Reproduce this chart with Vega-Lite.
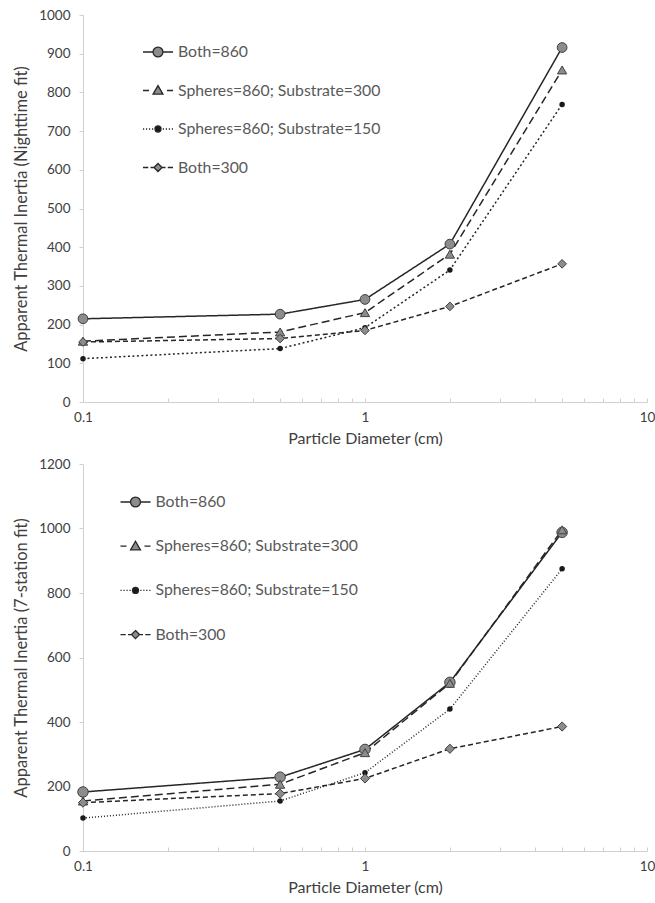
{
  "$schema": "https://vega.github.io/schema/vega-lite/v6.json",
  "background": "white",
  "padding": {"left": 13, "top": 8, "right": 10, "bottom": 5},
  "config": {
    "font": "Lato",
    "view": {"stroke": null},
    "axis": {"grid": false, "domainColor": "#d0d0d0", "tickColor": "#d0d0d0", "labelColor": "#404040", "titleColor": "#404040", "labelFontSize": 13.5, "titleFontSize": 16.5, "titleFontWeight": "normal", "labelFont": "Lato", "titleFont": "Lato"},
    "legend": {"labelFont": "Lato"}
  },
  "datasets": {
    "pts": [
      {"panel": "night", "series": "Both=860", "d": 0.1, "ti": 215},
      {"panel": "night", "series": "Both=860", "d": 0.5, "ti": 227},
      {"panel": "night", "series": "Both=860", "d": 1, "ti": 265},
      {"panel": "night", "series": "Both=860", "d": 2, "ti": 408},
      {"panel": "night", "series": "Both=860", "d": 5, "ti": 916},
      {"panel": "night", "series": "Spheres=860; Substrate=300", "d": 0.1, "ti": 157},
      {"panel": "night", "series": "Spheres=860; Substrate=300", "d": 0.5, "ti": 181},
      {"panel": "night", "series": "Spheres=860; Substrate=300", "d": 1, "ti": 231},
      {"panel": "night", "series": "Spheres=860; Substrate=300", "d": 2, "ti": 382},
      {"panel": "night", "series": "Spheres=860; Substrate=300", "d": 5, "ti": 858},
      {"panel": "night", "series": "Spheres=860; Substrate=150", "d": 0.1, "ti": 112},
      {"panel": "night", "series": "Spheres=860; Substrate=150", "d": 0.5, "ti": 138},
      {"panel": "night", "series": "Spheres=860; Substrate=150", "d": 1, "ti": 192},
      {"panel": "night", "series": "Spheres=860; Substrate=150", "d": 2, "ti": 341},
      {"panel": "night", "series": "Spheres=860; Substrate=150", "d": 5, "ti": 769},
      {"panel": "night", "series": "Both=300", "d": 0.1, "ti": 155},
      {"panel": "night", "series": "Both=300", "d": 0.5, "ti": 164},
      {"panel": "night", "series": "Both=300", "d": 1, "ti": 185},
      {"panel": "night", "series": "Both=300", "d": 2, "ti": 247},
      {"panel": "night", "series": "Both=300", "d": 5, "ti": 357},
      {"panel": "seven", "series": "Both=860", "d": 0.1, "ti": 183},
      {"panel": "seven", "series": "Both=860", "d": 0.5, "ti": 229},
      {"panel": "seven", "series": "Both=860", "d": 1, "ti": 315},
      {"panel": "seven", "series": "Both=860", "d": 2, "ti": 523},
      {"panel": "seven", "series": "Both=860", "d": 5, "ti": 988},
      {"panel": "seven", "series": "Spheres=860; Substrate=300", "d": 0.1, "ti": 155},
      {"panel": "seven", "series": "Spheres=860; Substrate=300", "d": 0.5, "ti": 207},
      {"panel": "seven", "series": "Spheres=860; Substrate=300", "d": 1, "ti": 305},
      {"panel": "seven", "series": "Spheres=860; Substrate=300", "d": 2, "ti": 520},
      {"panel": "seven", "series": "Spheres=860; Substrate=300", "d": 5, "ti": 996},
      {"panel": "seven", "series": "Spheres=860; Substrate=150", "d": 0.1, "ti": 102},
      {"panel": "seven", "series": "Spheres=860; Substrate=150", "d": 0.5, "ti": 155},
      {"panel": "seven", "series": "Spheres=860; Substrate=150", "d": 1, "ti": 243},
      {"panel": "seven", "series": "Spheres=860; Substrate=150", "d": 2, "ti": 440},
      {"panel": "seven", "series": "Spheres=860; Substrate=150", "d": 5, "ti": 875},
      {"panel": "seven", "series": "Both=300", "d": 0.1, "ti": 150},
      {"panel": "seven", "series": "Both=300", "d": 0.5, "ti": 178},
      {"panel": "seven", "series": "Both=300", "d": 1, "ti": 225},
      {"panel": "seven", "series": "Both=300", "d": 2, "ti": 317},
      {"panel": "seven", "series": "Both=300", "d": 5, "ti": 386}
    ]
  },
  "spacing": 10,
  "resolve": {"scale": {"strokeDash": "independent", "strokeWidth": "independent", "shape": "independent", "fill": "independent", "y": "independent", "x": "independent"}, "legend": {"shape": "independent", "fill": "independent"}},
  "vconcat": [
    {
      "width": 564,
      "height": 387,
      "data": {"name": "pts"},
      "transform": [{"filter": "datum.panel == 'night'"}],
      "encoding": {
        "x": {"field": "d", "type": "quantitative", "scale": {"type": "log", "domain": [0.1, 10], "nice": false}, "axis": {"title": "Particle Diameter (cm)", "titleFontSize": 16, "values": [0.1,0.2,0.3,0.4,0.5,0.6,0.7,0.8,0.9,1,2,3,4,5,6,7,8,9,10], "format": "~g", "labelExpr": "(datum.value == 0.1 || datum.value == 1 || datum.value == 10) ? datum.label : ''", "tickSize": -4, "labelPadding": 12, "titlePadding": 7, "labelFlush": false}},
        "y": {"field": "ti", "type": "quantitative", "scale": {"domain": [0, 1000], "nice": false}, "axis": {"title": "Apparent Thermal Inertia (Nighttime fit)", "format": "d", "values": [0,100,200,300,400,500,600,700,800,900,1000], "tickSize": 4, "labelPadding": 9, "titlePadding": 9}}
      },
      "layer": [
        {
          "mark": {"type": "line", "color": "#262626"},
          "encoding": {
            "detail": {"field": "series"},
            "strokeDash": {"field": "series", "type": "nominal", "scale": {"domain": ["Both=300", "Both=860", "Spheres=860; Substrate=300", "Spheres=860; Substrate=150"], "range": [[5, 3], [1, 0], [8, 4], [2, 2.5]]}, "legend": null},
            "strokeWidth": {"field": "series", "type": "nominal", "scale": {"domain": ["Both=300", "Both=860", "Spheres=860; Substrate=300", "Spheres=860; Substrate=150"], "range": [1.5, 1.5, 1.5, 2]}, "legend": null}
          }
        },
        {"transform": [{"filter": "datum.series == 'Both=860'"}], "mark": {"type": "point", "shape": "circle", "filled": true, "fill": "#8c8c8c", "stroke": "#404040", "strokeWidth": 1, "size": 95, "opacity": 1}},
        {"transform": [{"filter": "datum.series == 'Spheres=860; Substrate=300'"}], "mark": {"type": "point", "shape": "triangle-up", "filled": true, "fill": "#8c8c8c", "stroke": "#404040", "strokeWidth": 1, "size": 85, "opacity": 1}},
        {"transform": [{"filter": "datum.series == 'Spheres=860; Substrate=150'"}], "mark": {"type": "point", "shape": "circle", "filled": true, "fill": "#1a1a1a", "size": 30, "opacity": 1}},
        {"transform": [{"filter": "datum.series == 'Both=300'"}], "mark": {"type": "point", "shape": "diamond", "filled": true, "fill": "#8c8c8c", "stroke": "#404040", "strokeWidth": 1, "size": 75, "opacity": 1}},
        {
          "mark": {"type": "point", "filled": true, "opacity": 0, "stroke": "#262626"},
          "encoding": {
            "shape": {"field": "series", "type": "nominal", "scale": {"domain": ["Both=860", "Spheres=860; Substrate=300", "Spheres=860; Substrate=150", "Both=300"], "range": [
              "M-1,0L-0.33,0M0.33,0L1,0M-0.33,0A0.33,0.33,0,1,1,0.33,0A0.33,0.33,0,1,1,-0.33,0Z",
              "M-1,0L-0.6,0M0.6,0L1,0M0,-0.33L0.33,0.24L-0.33,0.24Z",
              "M-1,0L-0.92,0M-0.8,0L-0.72,0M-0.6,0L-0.52,0M-0.4,0L-0.32,0M0.32,0L0.4,0M0.52,0L0.6,0M0.72,0L0.8,0M0.92,0L1,0M-0.2,0A0.2,0.2,0,1,1,0.2,0A0.2,0.2,0,1,1,-0.2,0Z",
              "M-1,0L-0.65,0M-0.5,0L-0.3,0M0.3,0L0.5,0M0.65,0L1,0M0,-0.27L0.27,0L0,0.27L-0.27,0Z"
            ]}, "legend": {"title": null, "orient": "none", "legendX": 59, "legendY": 21, "padding": 0, "symbolSize": 900, "symbolOpacity": 1, "symbolStrokeColor": "#262626", "symbolStrokeWidth": 1.3, "labelFontSize": 15.8, "labelColor": "#595959", "labelOffset": 4, "rowPadding": 14.5, "labelLimit": 400, "encoding": {"symbols": {"stroke": {"value": "#262626"}, "strokeWidth": {"value": 1.3}, "strokeOpacity": {"value": 1}}}}},
            "fill": {"field": "series", "type": "nominal", "scale": {"domain": ["Both=860", "Spheres=860; Substrate=300", "Spheres=860; Substrate=150", "Both=300"], "range": ["#8c8c8c", "#8c8c8c", "#1a1a1a", "#8c8c8c"]}, "legend": {"title": null, "orient": "none", "legendX": 59, "legendY": 21, "padding": 0, "symbolSize": 900, "symbolOpacity": 1, "symbolStrokeColor": "#262626", "symbolStrokeWidth": 1.3, "labelFontSize": 15.8, "labelColor": "#595959", "labelOffset": 4, "rowPadding": 14.5, "labelLimit": 400, "encoding": {"symbols": {"stroke": {"value": "#262626"}, "strokeWidth": {"value": 1.3}, "strokeOpacity": {"value": 1}}}}}
          }
        }
      ]
    },
    {
      "width": 564,
      "height": 387,
      "data": {"name": "pts"},
      "transform": [{"filter": "datum.panel == 'seven'"}],
      "encoding": {
        "x": {"field": "d", "type": "quantitative", "scale": {"type": "log", "domain": [0.1, 10], "nice": false}, "axis": {"title": "Particle Diameter (cm)", "titleFontSize": 16, "values": [0.1,0.2,0.3,0.4,0.5,0.6,0.7,0.8,0.9,1,2,3,4,5,6,7,8,9,10], "format": "~g", "labelExpr": "(datum.value == 0.1 || datum.value == 1 || datum.value == 10) ? datum.label : ''", "tickSize": -4, "labelPadding": 12, "titlePadding": 7, "labelFlush": false}},
        "y": {"field": "ti", "type": "quantitative", "scale": {"domain": [0, 1200], "nice": false}, "axis": {"title": "Apparent Thermal Inertia (7-station fit)", "format": "d", "values": [0,200,400,600,800,1000,1200], "tickSize": 4, "labelPadding": 9, "titlePadding": 9}}
      },
      "layer": [
        {
          "mark": {"type": "line", "color": "#262626"},
          "encoding": {
            "detail": {"field": "series"},
            "strokeDash": {"field": "series", "type": "nominal", "scale": {"domain": ["Both=300", "Both=860", "Spheres=860; Substrate=300", "Spheres=860; Substrate=150"], "range": [[5, 3], [1, 0], [8, 4], [1, 2]]}, "legend": null},
            "strokeWidth": {"field": "series", "type": "nominal", "scale": {"domain": ["Both=300", "Both=860", "Spheres=860; Substrate=300", "Spheres=860; Substrate=150"], "range": [1.5, 1.5, 1.5, 1.1]}, "legend": null}
          }
        },
        {"transform": [{"filter": "datum.series == 'Both=860'"}], "mark": {"type": "point", "shape": "circle", "filled": true, "fill": "#8c8c8c", "stroke": "#404040", "strokeWidth": 1, "size": 110, "opacity": 1}},
        {"transform": [{"filter": "datum.series == 'Spheres=860; Substrate=300'"}], "mark": {"type": "point", "shape": "triangle-up", "filled": true, "fill": "#8c8c8c", "stroke": "#404040", "strokeWidth": 1, "size": 85, "opacity": 1}},
        {"transform": [{"filter": "datum.series == 'Spheres=860; Substrate=150'"}], "mark": {"type": "point", "shape": "circle", "filled": true, "fill": "#1a1a1a", "size": 30, "opacity": 1}},
        {"transform": [{"filter": "datum.series == 'Both=300'"}], "mark": {"type": "point", "shape": "diamond", "filled": true, "fill": "#8c8c8c", "stroke": "#404040", "strokeWidth": 1, "size": 85, "opacity": 1}},
        {
          "mark": {"type": "point", "filled": true, "opacity": 0, "stroke": "#262626"},
          "encoding": {
            "shape": {"field": "series", "type": "nominal", "scale": {"domain": ["Both=860", "Spheres=860; Substrate=300", "Spheres=860; Substrate=150", "Both=300"], "range": [
              "M-1,0L-0.33,0M0.33,0L1,0M-0.33,0A0.33,0.33,0,1,1,0.33,0A0.33,0.33,0,1,1,-0.33,0Z",
              "M-1,0L-0.6,0M0.6,0L1,0M0,-0.33L0.33,0.24L-0.33,0.24Z",
              "M-1,0L-0.92,0M-0.8,0L-0.72,0M-0.6,0L-0.52,0M-0.4,0L-0.32,0M0.32,0L0.4,0M0.52,0L0.6,0M0.72,0L0.8,0M0.92,0L1,0M-0.2,0A0.2,0.2,0,1,1,0.2,0A0.2,0.2,0,1,1,-0.2,0Z",
              "M-1,0L-0.65,0M-0.5,0L-0.3,0M0.3,0L0.5,0M0.65,0L1,0M0,-0.27L0.27,0L0,0.27L-0.27,0Z"
            ]}, "legend": {"title": null, "orient": "none", "legendX": 36.5, "legendY": 22, "padding": 0, "symbolSize": 900, "symbolOpacity": 1, "symbolStrokeColor": "#262626", "symbolStrokeWidth": 1.3, "labelFontSize": 15.8, "labelColor": "#595959", "labelOffset": 4, "rowPadding": 20.2, "labelLimit": 400, "encoding": {"symbols": {"stroke": {"value": "#262626"}, "strokeWidth": {"value": 1.3}, "strokeOpacity": {"value": 1}}}}},
            "fill": {"field": "series", "type": "nominal", "scale": {"domain": ["Both=860", "Spheres=860; Substrate=300", "Spheres=860; Substrate=150", "Both=300"], "range": ["#8c8c8c", "#8c8c8c", "#1a1a1a", "#8c8c8c"]}, "legend": {"title": null, "orient": "none", "legendX": 36.5, "legendY": 22, "padding": 0, "symbolSize": 900, "symbolOpacity": 1, "symbolStrokeColor": "#262626", "symbolStrokeWidth": 1.3, "labelFontSize": 15.8, "labelColor": "#595959", "labelOffset": 4, "rowPadding": 20.2, "labelLimit": 400, "encoding": {"symbols": {"stroke": {"value": "#262626"}, "strokeWidth": {"value": 1.3}, "strokeOpacity": {"value": 1}}}}}
          }
        }
      ]
    }
  ]
}
